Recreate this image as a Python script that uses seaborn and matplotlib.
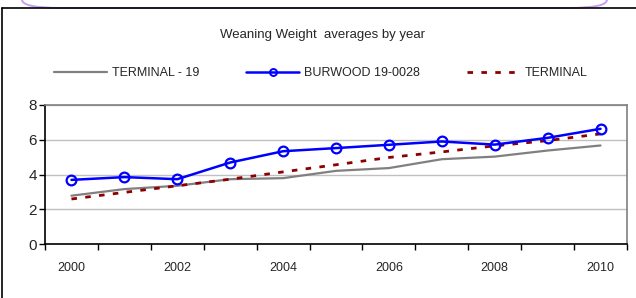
import pandas as pd
import seaborn as sns
import matplotlib.pyplot as plt
from matplotlib.patches import FancyBboxPatch
from matplotlib.lines import Line2D

# values
years = list(range(2000, 2011))
terminal_19 = [2.78, 3.16, 3.35, 3.73, 3.79, 4.21, 4.37, 4.88, 5.03, 5.38, 5.67]
burwood = [3.69, 3.85, 3.73, 4.69, 5.34, 5.52, 5.71, 5.90, 5.72, 6.11, 6.63]
terminal = [2.59, 2.97, 3.35, 3.73, 4.15, 4.56, 4.98, 5.30, 5.65, 5.95, 6.34]
series_names = ["TERMINAL - 19", "BURWOOD 19-0028", "TERMINAL"]
tick_labels = ["2000", "2002", "2004", "2006", "2008", "2010"]

df = pd.DataFrame({
    "pos": list(range(len(years))) * 3,
    "value": terminal_19 + burwood + terminal,
    "series": [series_names[0]] * 11 + [series_names[1]] * 11 + [series_names[2]] * 11,
})

sns.set_theme(style="white")
plt.rcParams["font.family"] = ["Liberation Sans", "DejaVu Sans"]

fig = plt.figure(figsize=(6.36, 2.98), dpi=100)
ax = fig.add_axes([45 / 636, 1 - 244 / 298, 582 / 636, 139 / 298])

palette = {series_names[0]: "#808080", series_names[1]: "#0000ff", series_names[2]: "#8b0000"}
sns.lineplot(data=df[df.series == series_names[0]], x="pos", y="value", color=palette[series_names[0]],
             linewidth=1.6, ax=ax, legend=False)
sns.lineplot(data=df[df.series == series_names[2]], x="pos", y="value", color=palette[series_names[2]],
             linewidth=2.0, linestyle=(0, (2, 3)), ax=ax, legend=False)
sns.lineplot(data=df[df.series == series_names[1]], x="pos", y="value", color=palette[series_names[1]],
             linewidth=1.8, marker="o", markersize=7, markerfacecolor="none",
             markeredgecolor="#0000ff", markeredgewidth=1.6, ax=ax, legend=False)

ax.set_xlim(-0.5, 10.5)
ax.set_ylim(0, 8)
ax.set_yticks([0, 2, 4, 6, 8])
ax.set_xticks([i - 0.5 for i in range(12)])
ax.set_xticklabels([])
ax.set_xticks(list(range(0, 11, 2)), minor=True)
ax.set_xticklabels(tick_labels, minor=True)
ax.tick_params(axis="x", which="major", direction="out", length=4, width=1, color="black", bottom=True)
ax.tick_params(axis="x", which="minor", length=0, pad=13, labelsize=9)
ax.tick_params(axis="y", direction="out", length=4, width=1, color="black", left=True, labelsize=11, pad=2)
ax.set_xlabel("")
ax.set_ylabel("")
ax.yaxis.grid(True, color="#c0c0c0", linewidth=1)
ax.set_axisbelow(True)
for side in ["left", "bottom"]:
    ax.spines[side].set_color("black")
    ax.spines[side].set_linewidth(1.2)
for side in ["top", "right"]:
    ax.spines[side].set_color("#808080")
    ax.spines[side].set_linewidth(1.2)

fig.text(0.507, 1 - 35 / 298, "Weaning Weight  averages by year", ha="center", va="center", fontsize=9.5)

handles = [
    Line2D([], [], color="#808080", linewidth=1.6),
    Line2D([], [], color="#0000ff", linewidth=1.8, marker="o", markersize=5,
           markerfacecolor="none", markeredgewidth=1.4),
    Line2D([], [], color="#8b0000", linewidth=2.0, linestyle=(0, (2, 3))),
]
fig.legend(handles, series_names, loc="center left", bbox_to_anchor=(54 / 636, 1 - 73 / 298), ncol=3,
           frameon=False, handlelength=4.2, columnspacing=3.8, handletextpad=0.4, fontsize=9,
           borderaxespad=0, borderpad=0)

# outer chart frame and rounded border above it
fig.add_artist(Line2D([2 / 636, 2 / 636], [0, 1 - 8 / 298], color="black", linewidth=1.2,
                      transform=fig.transFigure))
fig.add_artist(Line2D([2 / 636, 1], [1 - 8 / 298, 1 - 8 / 298], color="black", linewidth=1.2,
                      transform=fig.transFigure))
fig.add_artist(FancyBboxPatch((22 / 636, 1 - 8 / 298), 585 / 636, 0.2,
                              boxstyle="round,pad=0,rounding_size=0.06",
                              transform=fig.transFigure, facecolor="white",
                              edgecolor="#c79ef2", linewidth=1.4, mutation_aspect=298 / 636))

fig.savefig("out.png", dpi=100)
